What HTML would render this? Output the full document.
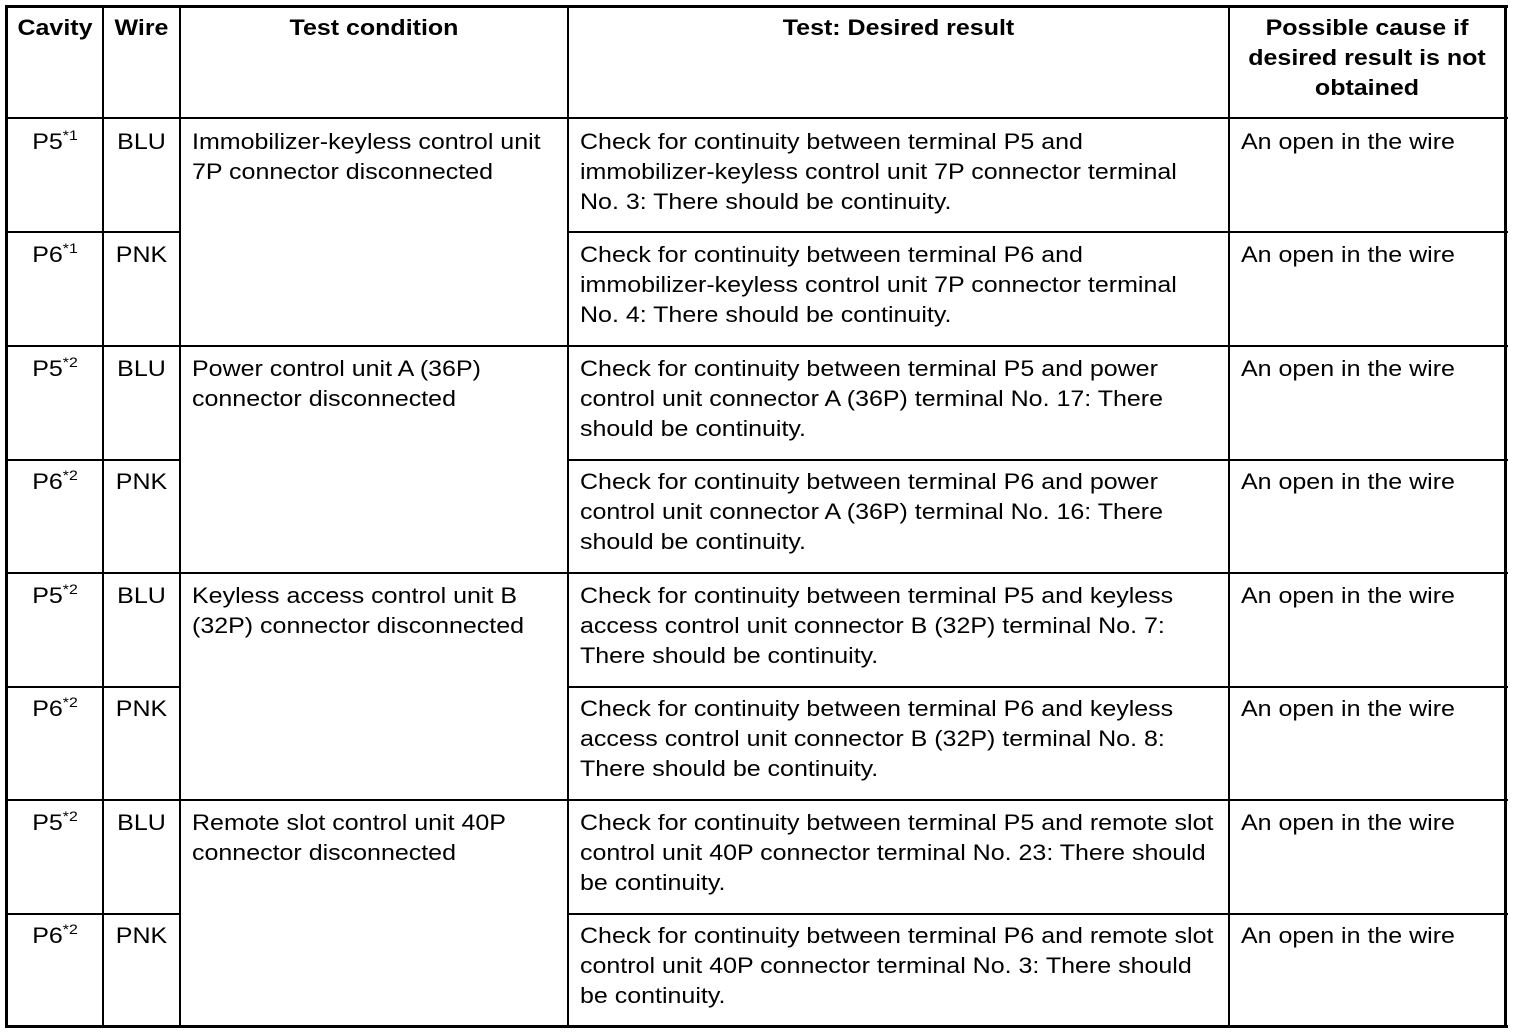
<!DOCTYPE html>
<html><head><meta charset="utf-8"><style>
body{margin:0;width:1520px;height:1034px;background:#fff;position:relative;overflow:hidden;font-family:"Liberation Sans",Arial,sans-serif;font-size:22px;color:#000}
.h,.v{position:absolute;background:#000}
.t{position:absolute;line-height:30px;white-space:nowrap;transform:scaleX(1.136);transform-origin:left top}
.c{text-align:center;transform-origin:center top}
b{font-weight:bold}
sup{font-size:14px;vertical-align:0;position:relative;top:-9px}
</style></head><body>
<div class="h" style="left:5px;top:5px;width:1503px;height:3px"></div>
<div class="h" style="left:5px;top:1025px;width:1503px;height:3px"></div>
<div class="v" style="left:5px;top:5px;width:3px;height:1023px"></div>
<div class="v" style="left:1504px;top:5px;width:3px;height:1023px"></div>
<div class="v" style="left:102px;top:5px;width:2px;height:1023px"></div>
<div class="v" style="left:179px;top:5px;width:2px;height:1023px"></div>
<div class="v" style="left:567px;top:5px;width:2px;height:1023px"></div>
<div class="v" style="left:1228px;top:5px;width:2px;height:1023px"></div>
<div class="h" style="left:5px;top:117px;width:1503px;height:2px"></div>
<div class="h" style="left:5px;top:345px;width:1503px;height:2px"></div>
<div class="h" style="left:5px;top:572px;width:1503px;height:2px"></div>
<div class="h" style="left:5px;top:799px;width:1503px;height:2px"></div>
<div class="h" style="left:5px;top:231px;width:176px;height:2px"></div>
<div class="h" style="left:567px;top:231px;width:941px;height:2px"></div>
<div class="h" style="left:5px;top:459px;width:176px;height:2px"></div>
<div class="h" style="left:567px;top:459px;width:941px;height:2px"></div>
<div class="h" style="left:5px;top:686px;width:176px;height:2px"></div>
<div class="h" style="left:567px;top:686px;width:941px;height:2px"></div>
<div class="h" style="left:5px;top:913px;width:176px;height:2px"></div>
<div class="h" style="left:567px;top:913px;width:941px;height:2px"></div>

<div class="t c" style="left:8px;width:94px;top:13px"><b>Cavity</b></div>
<div class="t c" style="left:104px;width:75px;top:13px"><b>Wire</b></div>
<div class="t c" style="left:181px;width:386px;top:13px"><b>Test condition</b></div>
<div class="t c" style="left:569px;width:659px;top:13px"><b>Test: Desired result</b></div>
<div class="t c" style="left:1230px;width:274px;top:13px"><b>Possible cause if<br>desired result is not<br>obtained</b></div>

<div class="t c" style="left:8px;width:94px;top:127px">P5<sup>*1</sup></div>
<div class="t c" style="left:104px;width:75px;top:127px">BLU</div>
<div class="t" style="left:192px;top:127px">Immobilizer-keyless control unit<br>7P connector disconnected</div>
<div class="t" style="left:580px;top:127px">Check for continuity between terminal P5 and<br>immobilizer-keyless control unit 7P connector terminal<br>No. 3: There should be continuity.</div>
<div class="t" style="left:1241px;top:127px">An open in the wire</div>

<div class="t c" style="left:8px;width:94px;top:240px">P6<sup>*1</sup></div>
<div class="t c" style="left:104px;width:75px;top:240px">PNK</div>
<div class="t" style="left:580px;top:240px">Check for continuity between terminal P6 and<br>immobilizer-keyless control unit 7P connector terminal<br>No. 4: There should be continuity.</div>
<div class="t" style="left:1241px;top:240px">An open in the wire</div>

<div class="t c" style="left:8px;width:94px;top:354px">P5<sup>*2</sup></div>
<div class="t c" style="left:104px;width:75px;top:354px">BLU</div>
<div class="t" style="left:192px;top:354px">Power control unit A (36P)<br>connector disconnected</div>
<div class="t" style="left:580px;top:354px">Check for continuity between terminal P5 and power<br>control unit connector A (36P) terminal No. 17: There<br>should be continuity.</div>
<div class="t" style="left:1241px;top:354px">An open in the wire</div>

<div class="t c" style="left:8px;width:94px;top:467px">P6<sup>*2</sup></div>
<div class="t c" style="left:104px;width:75px;top:467px">PNK</div>
<div class="t" style="left:580px;top:467px">Check for continuity between terminal P6 and power<br>control unit connector A (36P) terminal No. 16: There<br>should be continuity.</div>
<div class="t" style="left:1241px;top:467px">An open in the wire</div>

<div class="t c" style="left:8px;width:94px;top:581px">P5<sup>*2</sup></div>
<div class="t c" style="left:104px;width:75px;top:581px">BLU</div>
<div class="t" style="left:192px;top:581px">Keyless access control unit B<br>(32P) connector disconnected</div>
<div class="t" style="left:580px;top:581px">Check for continuity between terminal P5 and keyless<br>access control unit connector B (32P) terminal No. 7:<br>There should be continuity.</div>
<div class="t" style="left:1241px;top:581px">An open in the wire</div>

<div class="t c" style="left:8px;width:94px;top:694px">P6<sup>*2</sup></div>
<div class="t c" style="left:104px;width:75px;top:694px">PNK</div>
<div class="t" style="left:580px;top:694px">Check for continuity between terminal P6 and keyless<br>access control unit connector B (32P) terminal No. 8:<br>There should be continuity.</div>
<div class="t" style="left:1241px;top:694px">An open in the wire</div>

<div class="t c" style="left:8px;width:94px;top:808px">P5<sup>*2</sup></div>
<div class="t c" style="left:104px;width:75px;top:808px">BLU</div>
<div class="t" style="left:192px;top:808px">Remote slot control unit 40P<br>connector disconnected</div>
<div class="t" style="left:580px;top:808px">Check for continuity between terminal P5 and remote slot<br>control unit 40P connector terminal No. 23: There should<br>be continuity.</div>
<div class="t" style="left:1241px;top:808px">An open in the wire</div>

<div class="t c" style="left:8px;width:94px;top:921px">P6<sup>*2</sup></div>
<div class="t c" style="left:104px;width:75px;top:921px">PNK</div>
<div class="t" style="left:580px;top:921px">Check for continuity between terminal P6 and remote slot<br>control unit 40P connector terminal No. 3: There should<br>be continuity.</div>
<div class="t" style="left:1241px;top:921px">An open in the wire</div>
</body></html>
